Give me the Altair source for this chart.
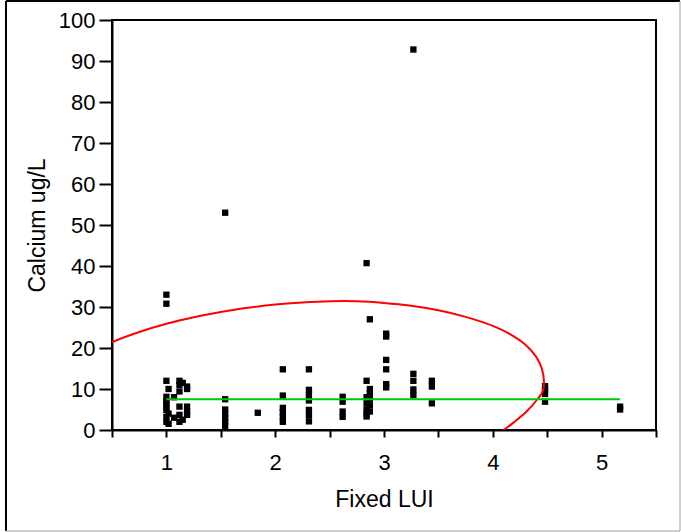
import altair as alt
import pandas as pd

# Fixed LUI (x) and calcium concentration in ug/L (y) for each site
lui = [
    1.00, 1.00,
    1.00, 1.00, 1.00, 1.00, 1.00, 1.00, 1.00, 1.00,
    1.02, 1.02, 1.02,
    1.12, 1.12, 1.12, 1.12, 1.12, 1.12,
    1.07, 1.07,
    1.19, 1.19, 1.19, 1.19, 1.19,
    1.15, 1.15,
    1.54, 1.54, 1.54, 1.54, 1.54, 1.54, 1.54,
    1.84,
    2.07, 2.07, 2.07, 2.07, 2.07, 2.07,
    2.31, 2.31, 2.31, 2.31, 2.31, 2.31, 2.31,
    2.62, 2.62, 2.62, 2.62,
    2.84, 2.84, 2.84, 2.84, 2.84, 2.84, 2.84,
    2.87, 2.87, 2.87, 2.87, 2.87, 2.87,
    3.02, 3.02, 3.02, 3.02, 3.02, 3.02,
    3.27, 3.27, 3.27, 3.27, 3.27,
    3.44, 3.44, 3.44,
    4.48, 4.48, 4.48, 4.48,
    5.17, 5.17,
]
calcium = [
    33.0, 30.8,
    12.0, 8.1, 6.5, 4.9, 3.2, 2.0, 7.0, 5.5,
    10.0, 4.0, 1.5,
    12.0, 9.4, 5.7, 3.7, 2.0, 11.0,
    8.0, 3.0,
    10.6, 5.7, 3.7, 4.5, 10.0,
    11.5, 2.5,
    53.0, 7.5, 5.0, 4.0, 3.0, 2.0, 1.0,
    4.2,
    14.8, 8.4, 5.4, 4.3, 3.2, 2.0,
    14.8, 9.8, 8.4, 7.2, 4.9, 3.6, 2.1,
    8.1, 6.9, 4.5, 3.2,
    40.7, 12.0, 8.0, 6.5, 5.0, 4.0, 3.3,
    27.0, 10.0, 9.0, 7.5, 6.0, 4.5,
    23.5, 22.8, 17.1, 14.8, 11.2, 10.4,
    92.8, 13.7, 12.0, 9.9, 8.5,
    12.0, 10.6, 6.5,
    10.7, 9.8, 8.8, 6.9,
    5.7, 5.0,
]

# Density ellipse outline, traced point by point (clipped to the frame)
ellipse_lui = [0.30, 0.50, 0.75, 1.00, 1.25, 1.50, 1.75, 2.00, 2.25, 2.50,
               2.75, 3.00, 3.25, 3.50, 3.75, 4.00, 4.15, 4.30, 4.40, 4.45,
               4.47, 4.46, 4.41, 4.31, 4.19, 4.05]
ellipse_calcium = [18.6, 21.4, 23.9, 25.9, 27.5, 28.8, 29.8, 30.6, 31.1, 31.4,
                   31.4, 31.0, 30.3, 29.2, 27.6, 25.4, 23.5, 20.8, 17.8, 15.0,
                   12.0, 9.5, 7.5, 4.5, 1.8, -1.0]

# Mean calcium line
mean_calcium = 7.5

x_ticks = [0.5, 1, 1.5, 2, 2.5, 3, 3.5, 4, 4.5, 5, 5.5]
y_ticks = [0, 10, 20, 30, 40, 50, 60, 70, 80, 90, 100]

FONT = "Liberation Sans"

points_df = pd.DataFrame({"lui": lui, "calcium": calcium})
ellipse_df = pd.DataFrame({"lui": ellipse_lui, "calcium": ellipse_calcium,
                           "step": list(range(len(ellipse_lui)))})
mean_df = pd.DataFrame({"lui": [min(lui)], "lui2": [max(lui)], "calcium": [mean_calcium]})
one_row = pd.DataFrame({"k": [0]})

x_scale = alt.Scale(domain=[0.5, 5.5], nice=False, zero=False)
y_scale = alt.Scale(domain=[0, 100], nice=False, zero=False)

# Whole-number ticks are labelled; half-unit ticks stay unlabelled
x_enc = alt.X("lui:Q", scale=x_scale, axis=alt.Axis(
    title="Fixed LUI", values=x_ticks, tickSize=7,
    labelExpr="datum.value == floor(datum.value) ? '' + datum.value : ''",
    labelPadding=15, titlePadding=15, labelFlush=False))
y_enc = alt.Y("calcium:Q", scale=y_scale, axis=alt.Axis(
    title="Calcium ug/L", values=y_ticks, tickSize=13,
    labelPadding=4, titlePadding=9, labelFlush=False))

points = alt.Chart(points_df).mark_square(size=40, color="black", opacity=1).encode(
    x=x_enc, y=y_enc)

ellipse = alt.Chart(ellipse_df).mark_line(
    color="#ff0000", strokeWidth=2, clip=True, interpolate="catmull-rom"
).encode(x="lui:Q", y="calcium:Q", order="step:Q")

mean_line = alt.Chart(mean_df).mark_rule(color="#00c800", strokeWidth=2).encode(
    x="lui:Q", x2="lui2:Q", y="calcium:Q")

# Outer panel border
border_left = alt.Chart(one_row).mark_rule(color="black", strokeWidth=2).encode(
    x=alt.value(-106), y=alt.value(-19), y2=alt.value(511))
border_top = alt.Chart(one_row).mark_rule(color="black", strokeWidth=2).encode(
    x=alt.value(-106), x2=alt.value(568), y=alt.value(-19))
border_right = alt.Chart(one_row).mark_rule(color="#a0a0a0", strokeWidth=1).encode(
    x=alt.value(568), y=alt.value(-19), y2=alt.value(511))
border_bottom = alt.Chart(one_row).mark_rule(color="#a0a0a0", strokeWidth=1).encode(
    x=alt.value(-106), x2=alt.value(568), y=alt.value(511))

chart = alt.layer(
    points, ellipse, mean_line,
    border_left, border_top, border_right, border_bottom,
).properties(
    width=544, height=410,
    autosize=alt.AutoSizeParams(type="none"),
    padding={"left": 112, "top": 20, "right": 25, "bottom": 102},
    background="white",
).configure_view(
    stroke="black", strokeWidth=2,
).configure_axis(
    grid=False,
    domainColor="black", domainWidth=2,
    tickColor="black", tickWidth=2,
    labelFont=FONT, labelFontSize=22, labelColor="black",
    titleFont=FONT, titleFontSize=23, titleFontWeight="normal", titleColor="black",
)

chart.save("out.html", embed_options={"renderer": "svg", "actions": False})
